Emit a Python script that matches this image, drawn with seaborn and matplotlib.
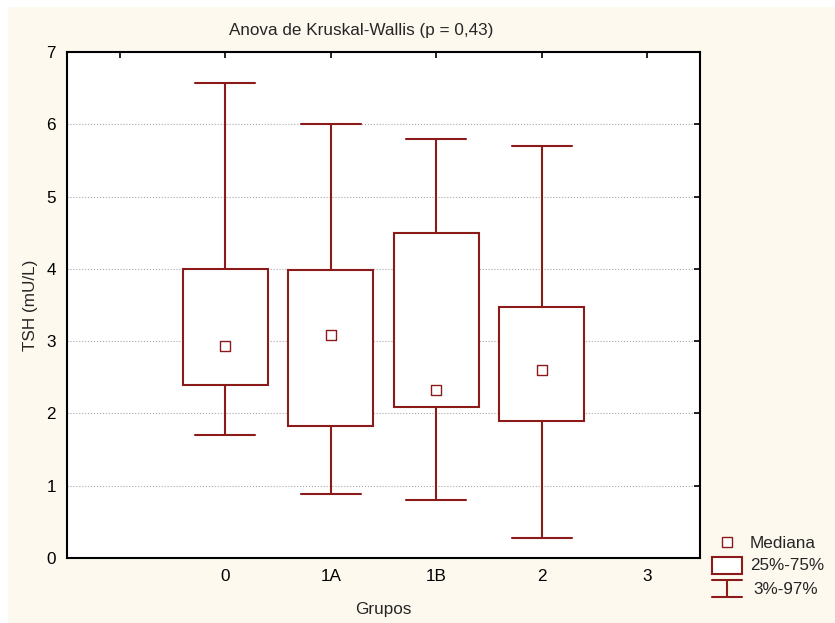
import matplotlib.pyplot as plt
from matplotlib.patches import Rectangle
import pandas as pd
import seaborn as sns

# TSH por grupo: percentis 3, 25, 50, 75, 97
grupos = ['0', '1A', '1B', '2', '3']
p03 = [1.70, 0.89, 0.80, 0.28]
q25 = [2.39, 1.82, 2.09, 1.90]
mediana = [2.93, 3.08, 2.33, 2.60]
q75 = [4.00, 3.99, 4.50, 3.47]
p97 = [6.57, 6.01, 5.80, 5.70]
xtick_labels = ['', '0', '1A', '1B', '2', '3']

red = '#8B1A1A'
cream = '#FDF9EE'
fs = 12.3

# five values per group -> quartiles land exactly on q25 / median / q75
rows = []
for g, a, b, c, d, e in zip(grupos, p03, q25, mediana, q75, p97):
    for v in (a, b, c, d, e):
        rows.append({'Grupos': g, 'TSH': v})
df = pd.DataFrame(rows)
med = pd.DataFrame({'Grupos': grupos[:len(mediana)], 'TSH': mediana})

sns.set_style('white')
plt.rcParams['font.family'] = ['Liberation Sans', 'DejaVu Sans']

fig = plt.figure(figsize=(8.35, 6.23), dpi=100)
fig.add_artist(Rectangle((8 / 835, 0), 1, 1 - 7 / 623, transform=fig.transFigure,
                         facecolor=cream, edgecolor='none', zorder=-10))
ax = fig.add_axes([67 / 835, 65 / 623, 633 / 835, 506 / 623])

sns.boxplot(data=df, x='Grupos', y='TSH', order=grupos, whis=(0, 100), width=0.81,
            color='white', linecolor=red, linewidth=1.5, saturation=1,
            medianprops=dict(visible=False), capwidths=0.57, showfliers=False, ax=ax)
sns.stripplot(data=med, x='Grupos', y='TSH', order=grupos, jitter=False, marker='s',
              color='white', edgecolor=red, linewidth=1.0, size=6.5, zorder=5, ax=ax)

ax.set_xlim(-1.5, 4.5)
ax.set_xticks(range(-1, 5))
ax.set_xticklabels(xtick_labels)
ax.set_ylim(0, 7)
ax.set_yticks(range(0, 8))
ax.yaxis.grid(True, linestyle=':', color='#a8a8a8', linewidth=0.8)
ax.xaxis.grid(False)
ax.set_axisbelow(True)
ax.tick_params(direction='in', top=True, right=True, length=4, width=1.2,
               labelsize=fs, pad=8, colors='black')
for s in ax.spines.values():
    s.set_color('black')
    s.set_linewidth(1.5)
ax.set_facecolor('white')

ax.set_title('Anova de Kruskal-Wallis (p = 0,43)', fontsize=fs, pad=12, x=0.4645)
ax.set_xlabel('Grupos', fontsize=fs, labelpad=13)
ax.set_ylabel('TSH (mU/L)', fontsize=fs, labelpad=6)

# legend drawn in pixel coords at lower right
lax = fig.add_axes([0, 0, 1, 1], zorder=10)
lax.set_xlim(0, 835)
lax.set_ylim(623, 0)
lax.axis('off')
lax.plot([727], [542], marker='s', ms=6.5, mfc='white', mec=red, mew=1.0, ls='none')
lax.add_patch(Rectangle((712, 557), 30, 17, facecolor='white', edgecolor=red, lw=1.5))
lax.plot([712, 742], [580, 580], color=red, lw=1.5)
lax.plot([712, 742], [597, 597], color=red, lw=1.5)
lax.plot([727, 727], [580, 597], color=red, lw=1.5)
lax.text(750, 543, 'Mediana', fontsize=fs, va='center')
lax.text(750, 566, '25%-75%', fontsize=fs, va='center')
lax.text(753, 589, '3%-97%', fontsize=fs, va='center')

fig.savefig('out.png', dpi=100)
